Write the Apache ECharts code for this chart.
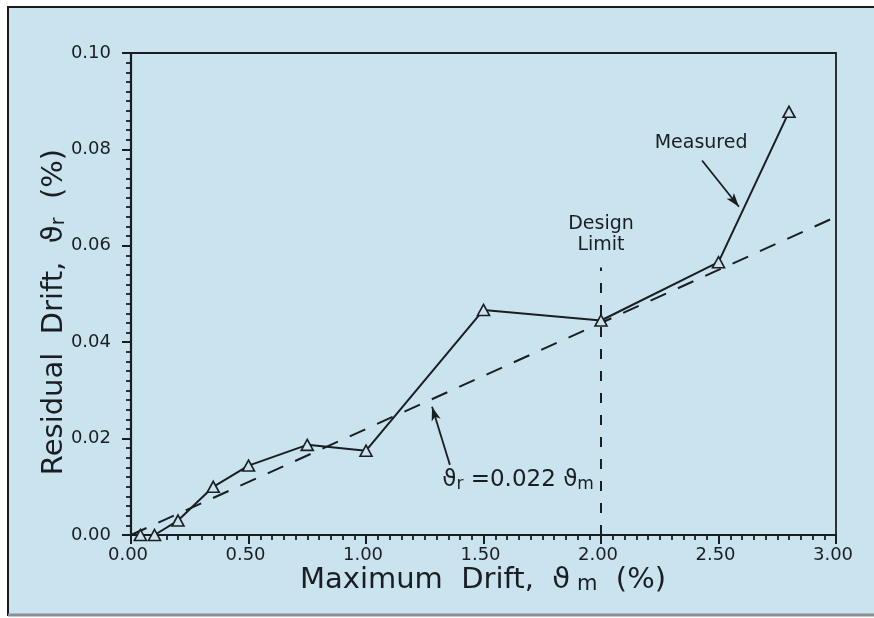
<!DOCTYPE html>
<html>
<head>
<meta charset="utf-8">
<script src="https://cdn.jsdelivr.net/npm/echarts@6/dist/echarts.min.js"></script>
<style>
  html, body { margin: 0; padding: 0; background: #fff; }
  #chart { width: 874px; height: 618px; }
</style>
</head>
<body>
<div id="chart"></div>
<script>
// measured points (maximum drift %, residual drift %)
const maxDrift = [0.04, 0.10, 0.20, 0.35, 0.50, 0.75, 1.00, 1.50, 2.00, 2.50, 2.80];
const residualDrift = [0.000, 0.000, 0.003, 0.010, 0.0144, 0.0187, 0.0175, 0.0467, 0.0445, 0.0566, 0.0878];
// fit line  theta_r = 0.022 theta_m
const fitX = [0, 3.0];
const fitY = [0, 0.066];
// design limit
const designLimitX = 2.0;
const designLimitY = [0, 0.0555];
// annotation anchors (data coords)
const measuredText = [2.426, 0.0813];
const measuredArrow = [[2.430, 0.0777], [2.587, 0.0681]];
const designText = [2.0, 0.0623];
const formulaText = [1.647, 0.0114];
const formulaArrow = [[1.357, 0.01455], [1.281, 0.0266]];

const ink = "#1a1e22";
const bg = "#cae4ef";
const font = "DejaVu Sans";

let chart = echarts.init(document.getElementById("chart"));

function arrowLine(pts) {
  return [
    { coord: pts[0], symbol: "none" },
    { coord: pts[1], symbol: "arrow", symbolSize: [7, 14] },
  ];
}

let option = {
  backgroundColor: "#ffffff",
  animation: false,
  textStyle: { fontFamily: font },
  grid: {
    left: 131,
    right: 38,
    top: 53,
    bottom: 83,
    show: true,
    borderColor: ink,
    borderWidth: 1.8,
    backgroundColor: "transparent",
  },
  xAxis: {
    type: "value",
    min: 0,
    max: 3,
    interval: 0.5,
    axisLine: { lineStyle: { color: ink, width: 2.2 } },
    axisTick: { show: true, length: 9, lineStyle: { color: ink, width: 2 } },
    minorTick: { show: true, splitNumber: 10, length: 5, lineStyle: { color: ink, width: 1.8 } },
    splitLine: { show: false },
    axisLabel: {
      color: ink,
      fontSize: 18,
      margin: 11,
      padding: [0, 6, 0, 0],
      formatter: (v) => v.toFixed(2),
    },
  },
  yAxis: {
    type: "value",
    min: 0,
    max: 0.1,
    interval: 0.02,
    axisLine: { show: true, lineStyle: { color: ink, width: 2.2 } },
    axisTick: { show: true, length: 9, lineStyle: { color: ink, width: 2 } },
    minorTick: { show: true, splitNumber: 10, length: 5, lineStyle: { color: ink, width: 1.8 } },
    splitLine: { show: false },
    axisLabel: {
      color: ink,
      fontSize: 18,
      margin: 20,
      formatter: (v) => v.toFixed(2),
    },
  },
  series: [
    {
      name: "fit",
      type: "line",
      data: fitX.map((x, i) => [x, fitY[i]]),
      showSymbol: false,
      silent: true,
      lineStyle: { color: ink, width: 2, type: [17, 13] },
      z: 2,
      markLine: {
        silent: true,
        label: { show: false },
        lineStyle: { color: ink, width: 1.8, type: "solid" },
        data: [arrowLine(measuredArrow), arrowLine(formulaArrow)],
      },
    },
    {
      name: "design limit",
      type: "line",
      data: designLimitY.map((y) => [designLimitX, y]),
      showSymbol: false,
      silent: true,
      lineStyle: { color: ink, width: 2, type: [10, 12] },
      z: 2,
    },
    {
      name: "Measured",
      type: "line",
      data: maxDrift.map((x, i) => [x, residualDrift[i]]),
      symbol: "triangle",
      symbolSize: [12, 11],
      lineStyle: { color: ink, width: 2 },
      itemStyle: { color: bg, borderColor: ink, borderWidth: 1.6 },
      z: 3,
    },
  ],
};
chart.setOption(option);

// texts placed from data coordinates
const toPx = (p) => chart.convertToPixel({ gridIndex: 0 }, p);
const pM = toPx(measuredText);
const pD = toPx(designText);
const pF = toPx(formulaText);

chart.setOption({
  graphic: [
    {
      type: "rect",
      z: -10,
      silent: true,
      shape: { x: 8, y: 7, width: 900, height: 608 },
      style: { fill: bg, stroke: "#1a1a1a", lineWidth: 2 },
    },
    {
      type: "line",
      z: -9,
      silent: true,
      shape: { x1: 8, y1: 615, x2: 874, y2: 615 },
      style: { stroke: "#8a8f92", lineWidth: 3 },
    },
    {
      type: "text",
      x: 483,
      y: 580,
      style: {
        text: "{t|Maximum  Drift,  ϑ}{s| m}{t|  (%)}",
        align: "center",
        verticalAlign: "middle",
        fill: ink,
        rich: {
          t: { fontSize: 29, fontFamily: font, fill: ink },
          s: { fontSize: 21, fontFamily: font, fill: ink, padding: [10, 0, 0, 0] },
        },
      },
    },
    {
      type: "text",
      x: 54,
      y: 312,
      rotation: Math.PI / 2,
      style: {
        text: "{t|Residual  Drift,  ϑ}{s|r}{t|  (%)}",
        align: "center",
        verticalAlign: "middle",
        fill: ink,
        rich: {
          t: { fontSize: 29, fontFamily: font, fill: ink },
          s: { fontSize: 19, fontFamily: font, fill: ink, padding: [10, 0, 0, 0] },
        },
      },
    },
    {
      type: "text",
      x: pM[0],
      y: pM[1],
      style: {
        text: "Measured",
        align: "center",
        verticalAlign: "middle",
        fontSize: 19,
        fontFamily: font,
        fill: ink,
      },
    },
    {
      type: "text",
      x: pD[0],
      y: pD[1],
      style: {
        text: "Design\nLimit",
        align: "center",
        verticalAlign: "middle",
        fontSize: 19,
        lineHeight: 21,
        fontFamily: font,
        fill: ink,
      },
    },
    {
      type: "text",
      x: pF[0],
      y: pF[1],
      style: {
        text: "{t|ϑ}{s|r}{t| =0.022 ϑ}{s|m}",
        align: "center",
        verticalAlign: "middle",
        fill: ink,
        rich: {
          t: { fontSize: 23, fontFamily: font, fill: ink },
          s: { fontSize: 17, fontFamily: font, fill: ink, padding: [9, 0, 0, 0] },
        },
      },
    },
  ],
});
</script>
</body>
</html>
